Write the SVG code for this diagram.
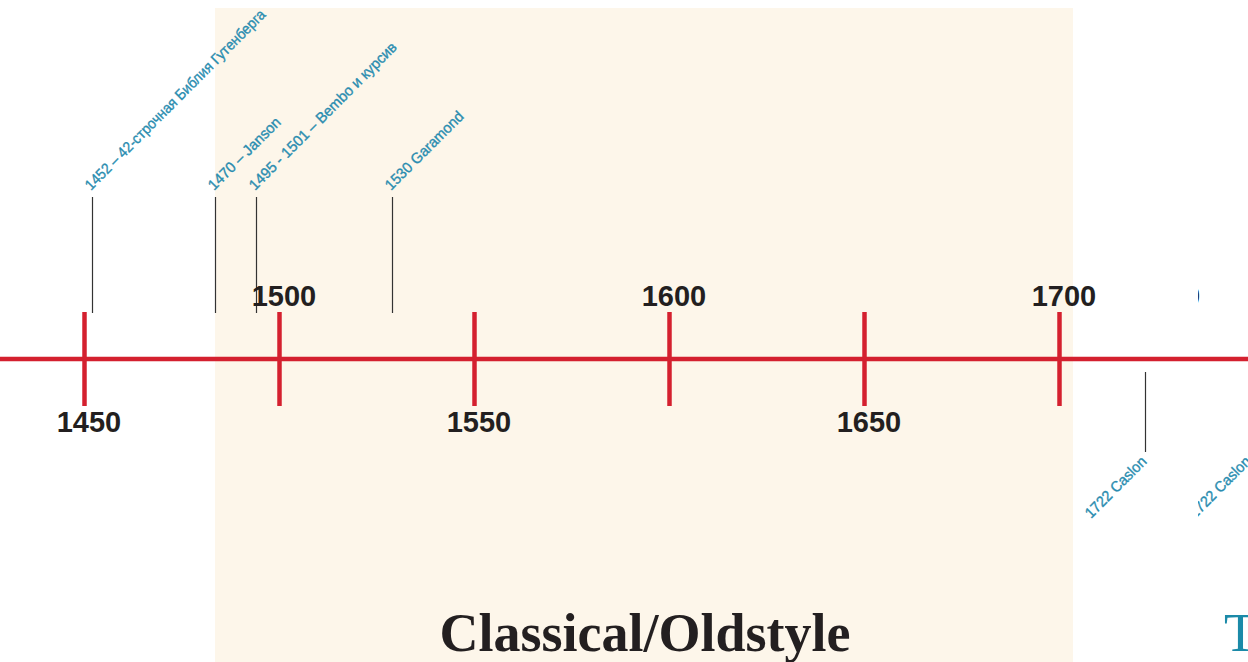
<svg xmlns="http://www.w3.org/2000/svg" width="1248" height="662" viewBox="0 0 1248 662">
<defs>
<style>
.yr{font-family:"Liberation Sans",Arial,sans-serif;font-weight:bold;font-size:29px;fill:#231f20;text-anchor:middle}
.ev{font-family:"Liberation Sans Narrow","Liberation Sans",Arial,sans-serif;font-size:15px;fill:#2a8db0;stroke:#2a8db0;stroke-width:0.35}
.pin{stroke:#333;stroke-width:1.2}
.tick{stroke:#d4202f;stroke-width:4.5}
.axis{stroke:#d4202f;stroke-width:4.5}
.era{font-family:"Liberation Serif","Times New Roman",serif;font-size:54px}
</style>
<clipPath id="c"><rect x="1198" y="0" width="60" height="662"/></clipPath>
</defs>
<rect id="era-bg" x="215" y="8" width="858" height="654" fill="#fdf6ea"/>
<g id="connectors">
<line class="axis" x1="0" y1="359" x2="1248" y2="359"/>
<line class="pin" x1="92.5" y1="197" x2="92.5" y2="313"/>
<line class="pin" x1="215.5" y1="197" x2="215.5" y2="313"/>
<line class="pin" x1="256.5" y1="197" x2="256.5" y2="313"/>
<line class="pin" x1="392.5" y1="197" x2="392.5" y2="313"/>
<line class="pin" x1="1145.5" y1="372" x2="1145.5" y2="452"/>
</g>
<g id="ticks">
<line class="tick" x1="84.5" y1="312" x2="84.5" y2="406"/>
<line class="tick" x1="279.5" y1="312" x2="279.5" y2="406"/>
<line class="tick" x1="474.5" y1="312" x2="474.5" y2="406"/>
<line class="tick" x1="669.5" y1="312" x2="669.5" y2="406"/>
<line class="tick" x1="864.5" y1="312" x2="864.5" y2="406"/>
<line class="tick" x1="1059.5" y1="312" x2="1059.5" y2="406"/>
</g>
<g id="years">
<text class="yr" x="89" y="432">1450</text>
<text class="yr" x="284" y="306">1500</text>
<text class="yr" x="479" y="432">1550</text>
<text class="yr" x="674" y="306">1600</text>
<text class="yr" x="869" y="432">1650</text>
<text class="yr" x="1064" y="306">1700</text>
</g>
<g id="ev1452"><text class="ev" transform="translate(91,191) rotate(-45)" textLength="248" lengthAdjust="spacingAndGlyphs">1452 – 42-строчная Библия Гутенберга</text></g>
<g id="ev1470"><text class="ev" transform="translate(214,191) rotate(-45)" textLength="96" lengthAdjust="spacingAndGlyphs">1470 – Janson</text></g>
<g id="ev1495"><text class="ev" transform="translate(255,191) rotate(-45)" textLength="202" lengthAdjust="spacingAndGlyphs">1495 - 1501 – Bembo и курсив</text></g>
<g id="ev1530"><text class="ev" transform="translate(391,191) rotate(-45)" textLength="104" lengthAdjust="spacingAndGlyphs">1530 Garamond</text></g>
<g id="ev1722"><text class="ev" transform="translate(1091,519) rotate(-45)" textLength="80" lengthAdjust="spacingAndGlyphs">1722 Caslon</text></g>
<g id="repeat" clip-path="url(#c)">
<g transform="translate(104,0)">
<text class="yr" x="1064" y="306">1700</text>
<text class="ev" transform="translate(1091,519) rotate(-45)" textLength="80" lengthAdjust="spacingAndGlyphs">1722 Caslon</text>
</g>
</g>
<g id="era-labels">
<text class="era" x="645" y="651" text-anchor="middle" font-weight="bold" fill="#231f20">Classical/Oldstyle</text>
<text class="era" x="1224" y="651" fill="#1b8aa8">T</text>
</g>
</svg>
